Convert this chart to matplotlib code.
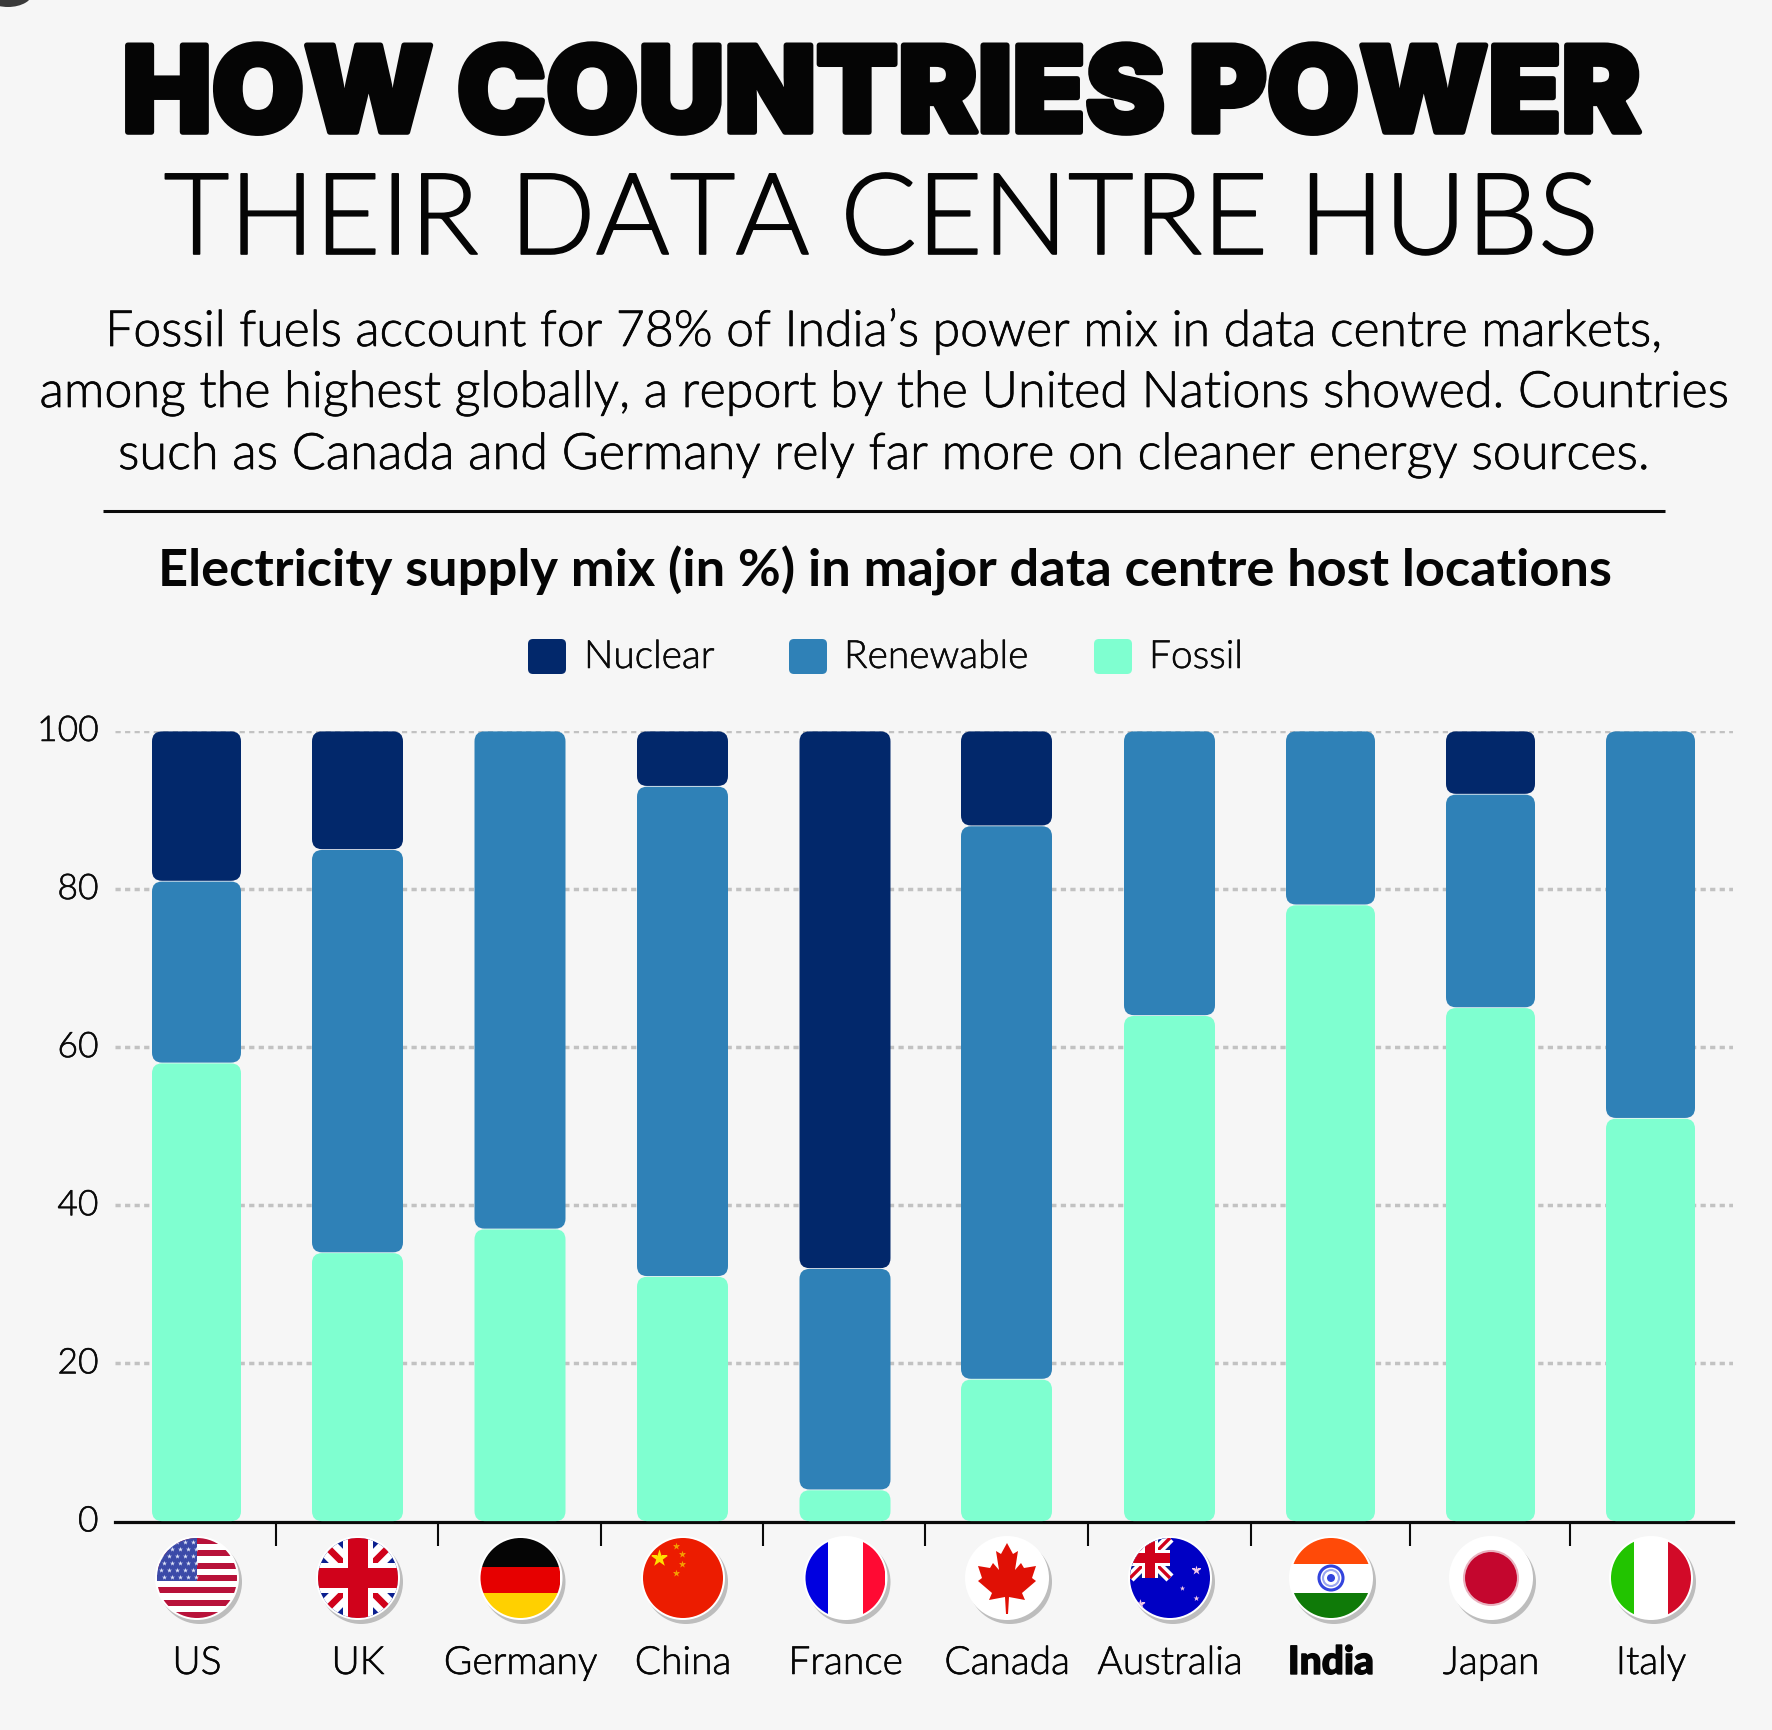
import matplotlib
matplotlib.use("Agg")
import matplotlib.pyplot as plt
import matplotlib.patheffects as pe
from matplotlib.transforms import ScaledTranslation
from matplotlib.patches import FancyBboxPatch, Circle, Rectangle, Polygon, Ellipse

# ---------- data ----------
countries = ["US", "UK", "Germany", "China", "France", "Canada", "Australia", "India", "Japan", "Italy"]
fossil = [58, 34, 37, 31, 4, 18, 64, 78, 65, 51]
renewable = [23, 51, 63, 62, 28, 70, 36, 22, 27, 49]
nuclear = [19, 15, 0, 7, 68, 12, 0, 0, 8, 0]
y_ticks = [0, 20, 40, 60, 80, 100]
legend_names = ["Nuclear", "Renewable", "Fossil"]

# ---------- layout (pixels) ----------
W, H = 1772, 1730
BG = "#F6F6F6"
C_N, C_R, C_F = "#02286B", "#2F81B7", "#7FFFD0"
AX_L, AX_R, AX_B, AX_T = 115, 1733, 1521.5, 731
centers = [196.5, 357.5, 520, 682.5, 845, 1006.5, 1169.5, 1330.5, 1490.5, 1650.5]
widths = [89, 91, 91, 91, 91, 91, 91, 89, 89, 89]
sep_ticks = [276, 438.5, 601, 763.5, 925.5, 1088, 1251, 1410, 1570]
LIGHT = 300
INK = "#0A0A0A"

plt.rcParams["font.family"] = ["Lato", "DejaVu Sans"]
fig = plt.figure(figsize=(W / 100, H / 100), dpi=100, facecolor=BG)

# ---------- chart ----------
ax = fig.add_axes([AX_L / W, 1 - AX_B / H, (AX_R - AX_L) / W, (AX_B - AX_T) / H], facecolor="none")
ax.set_xlim(AX_L, AX_R)
ax.set_ylim(0, 100)
for s in ("top", "left", "right"):
    ax.spines[s].set_visible(False)
ax.spines["bottom"].set_linewidth(2.3)
ax.spines["bottom"].set_color(INK)
ax.set_axisbelow(True)
ax.set_xticks(sep_ticks)
ax.set_xticklabels([])
ax.tick_params(axis="x", length=17, width=1.5, color=INK)
ax.set_yticks(y_ticks)
ax.set_yticklabels([str(v) for v in y_ticks], fontsize=25.5, fontweight=LIGHT, color=INK)
ax.tick_params(axis="y", length=0, pad=12)
lift = ScaledTranslation(0, 3 / 100, fig.dpi_scale_trans)
for lab in ax.get_yticklabels():
    lab.set_transform(lab.get_transform() + lift)
    lab.set_path_effects([pe.withStroke(linewidth=0.4, foreground=INK)])
for v in y_ticks[1:]:
    ax.axhline(v, color="#C2C2C2", lw=2.5, ls=(0, (1.5, 1.25)), zorder=0)

px_per_unit = (AX_B - AX_T) / 100
def seg(cx, w, bottom, h, color):
    if h <= 0:
        return
    ax.add_patch(FancyBboxPatch((cx - w / 2, bottom + 0.05), w, h - 0.1,
                                boxstyle="round,pad=0,rounding_size=10",
                                mutation_aspect=1 / px_per_unit,
                                fc=color, ec="none", zorder=3, clip_on=False))
for i, cx in enumerate(centers):
    seg(cx, widths[i], 0, fossil[i], C_F)
    seg(cx, widths[i], fossil[i], renewable[i], C_R)
    seg(cx, widths[i], fossil[i] + renewable[i], nuclear[i], C_N)

# ---------- overlay in pixel coordinates ----------
ov = fig.add_axes([0, 0, 1, 1], facecolor="none")
ov.set_xlim(0, W)
ov.set_ylim(H, 0)
ov.axis("off")
renderer = fig.canvas.get_renderer()

def fit(x, y, s, target, stroke=0.0, **kw):
    t = ov.text(x, y, s, ha="center", va="baseline", fontsize=30, color="#050505", **kw)
    bb = t.get_window_extent(renderer)
    t.set_fontsize(30 * target / bb.width)
    if stroke:
        t.set_path_effects([pe.withStroke(linewidth=stroke, foreground="#050505")])
    return t

ov.add_patch(Ellipse((8, -8), 50, 30, fc="#3A3A3A", ec="none"))

fit(882, 132, "HOW COUNTRIES POWER", 1520, stroke=4.0, fontweight="black", family=["Inter", "Lato"])
fit(882, 254, "THEIR DATA CENTRE HUBS", 1434, stroke=1.2, fontweight=LIGHT)
fit(884.5, 346, "Fossil fuels account for 78% of India\u2019s power mix in data centre markets,", 1553, fontweight=LIGHT, stroke=0.5)
fit(884.5, 407, "among the highest globally, a report by the United Nations showed. Countries", 1685, fontweight=LIGHT, stroke=0.5)
fit(884, 469, "such as Canada and Germany rely far more on cleaner energy sources.", 1528, fontweight=LIGHT, stroke=0.5)
ov.plot([103, 1665], [511, 511], color=INK, lw=2.2, solid_capstyle="butt")
fit(884.5, 587, "Electricity supply mix (in %) in major data centre host locations", 1455, fontweight="bold")

# legend
lx = [528, 789, 1094]
tx = [584, 844, 1149]
for x, tx_, name, c in zip(lx, tx, legend_names, [C_N, C_R, C_F]):
    ov.add_patch(FancyBboxPatch((x, 639), 38, 35, boxstyle="round,pad=0,rounding_size=5", fc=c, ec="none"))
    t = ov.text(tx_, 668, name, ha="left", va="baseline", fontsize=28, fontweight=LIGHT, color=INK)
    t.set_path_effects([pe.withStroke(linewidth=0.4, foreground=INK)])

# country labels
for cx, name in zip(centers, countries):
    bold = name == "India"
    t = ov.text(cx + 0.5, 1674, name, ha="center", va="baseline", fontsize=28,
                fontweight="black" if bold else LIGHT, color="#050505")
    t.set_path_effects([pe.withStroke(linewidth=1.0 if bold else 0.4, foreground="#050505")])

# ---------- flags ----------
R = 40
FY = 1578

def rect(clip, x0, y0, x1, y1, color, z=6):
    p = Rectangle((x0, y0), x1 - x0, y1 - y0, fc=color, ec="none", zorder=z)
    ov.add_patch(p)
    p.set_clip_path(clip)
    return p

def diag(clip, p0, p1, w, color, z=7):
    line, = ov.plot([p0[0], p1[0]], [p0[1], p1[1]], color=color, lw=w, zorder=z, solid_capstyle="butt")
    line.set_clip_path(clip)

def flag(cx):
    ov.add_patch(Circle((cx + 3, FY + 4), R + 2, fc="#BDBDBD", ec="none", zorder=4))
    ov.add_patch(Circle((cx, FY), R + 2, fc="white", ec="none", zorder=5))
    clip = Circle((cx, FY), R, fc="white", ec="none", zorder=5, transform=ov.transData)
    ov.add_patch(clip)
    return clip

def star(cx, cy, s, color, clip, z=8):
    sc = ov.scatter([cx], [cy], marker="*", s=s, c=color, linewidths=0, zorder=z)
    sc.set_clip_path(clip)

def us(c):
    clip = flag(c)
    for k in range(13):
        if k % 2 == 0:
            rect(clip, c - R, FY - R + k * 2 * R / 13, c + R, FY - R + (k + 1) * 2 * R / 13, "#B8123A")
    rect(clip, c - R, FY - R, c, FY + 3, "#3B4AA8", 7)
    for r_ in range(6):
        for q in range(5):
            star(c - 36 + q * 8 + (r_ % 2) * 3, FY - 36 + r_ * 7, 14, "#DDE3F7", clip)

def union(c, cy, rr, clip, z=6):
    rect(clip, c - rr, cy - rr, c + rr, cy + rr, "#0A1F8F", z)
    diag(clip, (c - rr, cy - rr), (c + rr, cy + rr), rr * 0.36, "white", z + 1)
    diag(clip, (c - rr, cy + rr), (c + rr, cy - rr), rr * 0.36, "white", z + 1)
    diag(clip, (c - rr, cy - rr), (c + rr, cy + rr), rr * 0.12, "#D0021B", z + 1)
    diag(clip, (c - rr, cy + rr), (c + rr, cy - rr), rr * 0.12, "#D0021B", z + 1)
    rect(clip, c - rr * 0.38, cy - rr, c + rr * 0.38, cy + rr, "white", z + 2)
    rect(clip, c - rr, cy - rr * 0.38, c + rr, cy + rr * 0.38, "white", z + 2)
    rect(clip, c - rr * 0.24, cy - rr, c + rr * 0.24, cy + rr, "#D0021B", z + 3)
    rect(clip, c - rr, cy - rr * 0.24, c + rr, cy + rr * 0.24, "#D0021B", z + 3)

def uk(c):
    clip = flag(c)
    union(c, FY, R, clip)

def germany(c):
    clip = flag(c)
    rect(clip, c - R, FY - R, c + R, FY - 11, "#050505")
    rect(clip, c - R, FY - 11, c + R, FY + 15, "#E60000")
    rect(clip, c - R, FY + 15, c + R, FY + R, "#FFD000")

def china(c):
    clip = flag(c)
    rect(clip, c - R, FY - R, c + R, FY + R, "#EC1C00")
    star(c - 24, FY - 20, 170, "#FFE000", clip)
    for dx, dy in [(-7, -32), (-1, -24), (-1, -14), (-7, -5)]:
        star(c + dx, FY + dy, 30, "#F4A000", clip)

def france(c):
    clip = flag(c)
    rect(clip, c - R, FY - R, c - 17, FY + R, "#0000E0")
    rect(clip, c + 18, FY - R, c + R, FY + R, "#FF0A33")

def canada(c):
    clip = flag(c)
    pts = [(0, -35), (-6, -24), (-11, -27), (-8, -8), (-14, -15), (-17, -10), (-29, -12),
           (-25, 0), (-29, 3), (-15, 15), (-18, 22), (-2, 19), (-1, 36), (1, 36), (2, 19),
           (18, 22), (15, 15), (29, 3), (25, 0), (29, -12), (17, -10), (14, -15), (8, -8),
           (11, -27), (6, -24)]
    ov.add_patch(Polygon([(c + x, FY + y) for x, y in pts], closed=True, fc="#E01005", ec="none", zorder=6))

def australia(c):
    clip = flag(c)
    rect(clip, c - R, FY - R, c + R, FY + R, "#0000C4")
    union(c - 20, FY - 20, 20, clip, 7)
    for dx, dy, s in [(26, -8, 50), (-30, 26, 60), (12, 10, 16), (26, 20, 20)]:
        star(c + dx, FY + dy, s, "#F2C8E8", clip, 11)

def india(c):
    clip = flag(c)
    rect(clip, c - R, FY - R, c + R, FY - 14, "#FF4A08")
    rect(clip, c - R, FY + 15, c + R, FY + R, "#0F7A08")
    ov.add_patch(Circle((c, FY), 12, fc="white", ec="#3344DD", lw=2.2, zorder=8))
    ov.add_patch(Circle((c, FY), 4, fc="#3344DD", ec="none", zorder=9))
    ov.add_patch(Circle((c, FY), 8, fc="none", ec="#9AA5F0", lw=1.5, zorder=9))

def japan(c):
    flag(c)
    ov.add_patch(Circle((c, FY), 27, fc="#C4062E", ec="#E9B3C0", lw=1.5, zorder=6))

def italy(c):
    clip = flag(c)
    rect(clip, c - R, FY - R, c - 17, FY + R, "#22C400")
    rect(clip, c + 17, FY - R, c + R, FY + R, "#D20A28")

drawers = [us, uk, germany, china, france, canada, australia, india, japan, italy]
for fn, cx in zip(drawers, centers):
    fn(cx + 0.5)

fig.savefig("out.png", dpi=100, facecolor=BG)
